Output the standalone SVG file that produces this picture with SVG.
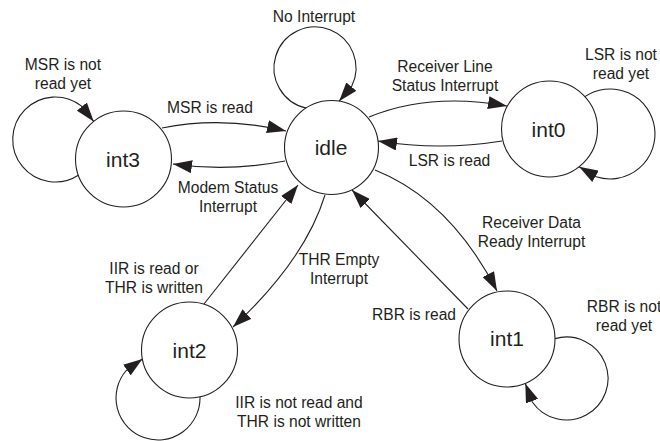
<svg xmlns="http://www.w3.org/2000/svg" width="660" height="441" viewBox="0 0 660 441">
<defs>
<marker id="arr" markerUnits="userSpaceOnUse" markerWidth="20" markerHeight="13" refX="19" refY="6.5" orient="auto">
<path d="M0,0 L19,6.5 L0,13 z" fill="#231f20"/>
</marker>
<style>
.node{fill:#fff;stroke:#231f20;stroke-width:1.1}
.e{fill:none;stroke:#231f20;stroke-width:1.1;marker-end:url(#arr)}
.lbl{font-family:"Liberation Sans",Arial,sans-serif;font-size:15.6px;fill:#231f20;text-anchor:middle}
.nl{font-family:"Liberation Sans",Arial,sans-serif;font-size:21px;fill:#231f20;text-anchor:middle}
</style>
</defs>
<rect width="660" height="441" fill="#fff"/>
<g id="idle"><circle class="node" cx="331.5" cy="147.5" r="47"/><text class="nl" x="331" y="154.5">idle</text></g>
<g id="int3"><circle class="node" cx="123.5" cy="159" r="48"/><text class="nl" x="123" y="167">int3</text></g>
<g id="int0"><circle class="node" cx="549.5" cy="129" r="48"/><text class="nl" x="548.5" y="136.5">int0</text></g>
<g id="int1"><circle class="node" cx="507" cy="339" r="48"/><text class="nl" x="507" y="346">int1</text></g>
<g id="int2"><circle class="node" cx="189.5" cy="350" r="48"/><text class="nl" x="189.5" y="357.5">int2</text></g>
<g id="connectors">
<path class="e" d="M306.1,108 A41,41 0 1 1 351.8,86 L339.1,101.2"/>
<path class="e" d="M78.3,175.2 A42.5,42.5 0 1 1 81.25,105.9 L93.7,121.4"/>
<path class="e" d="M584.9,96.6 A45,45 0 1 1 596.2,176.8 L579.1,166.8"/>
<path class="e" d="M555.1,338.6 A41.5,41.5 0 1 1 532.3,401.95 L525.3,383.4"/>
<path class="e" d="M200,396.8 A42,42 0 1 1 126.25,370.5 L142.4,359"/>
<path class="e" d="M162,128 Q222,116 286,131"/>
<path class="e" d="M285,161 Q228,172 173,164"/>
<path class="e" d="M369,117 Q430,92 507,106"/>
<path class="e" d="M502,141 Q440,151 378,141"/>
<path class="e" d="M375,170 Q450,200 497,291"/>
<path class="e" d="M468,309 L352,190"/>
<path class="e" d="M204,304 L298,185"/>
<path class="e" d="M325,195 Q305,260 233,327"/>
</g>
<g id="labels">
<text class="lbl" x="314" y="22">No Interrupt</text>
<text class="lbl" x="63" y="70">MSR is not</text>
<text class="lbl" x="63" y="89">read yet</text>
<text class="lbl" x="210" y="113">MSR is read</text>
<text class="lbl" x="228" y="193">Modem Status</text>
<text class="lbl" x="228" y="212">Interrupt</text>
<text class="lbl" x="445" y="72">Receiver Line</text>
<text class="lbl" x="445" y="91">Status Interrupt</text>
<text class="lbl" x="621" y="60">LSR is not</text>
<text class="lbl" x="621" y="79">read yet</text>
<text class="lbl" x="449.5" y="165.5">LSR is read</text>
<text class="lbl" x="531.5" y="228">Receiver Data</text>
<text class="lbl" x="531.5" y="247">Ready Interrupt</text>
<text class="lbl" x="339" y="265">THR Empty</text>
<text class="lbl" x="339" y="284">Interrupt</text>
<text class="lbl" x="154" y="274">IIR is read or</text>
<text class="lbl" x="154" y="293">THR is written</text>
<text class="lbl" x="414" y="320">RBR is read</text>
<text class="lbl" x="624" y="312">RBR is not</text>
<text class="lbl" x="624" y="331">read yet</text>
<text class="lbl" x="299" y="408">IIR is not read and</text>
<text class="lbl" x="299" y="427">THR is not written</text>
</g>
</svg>
